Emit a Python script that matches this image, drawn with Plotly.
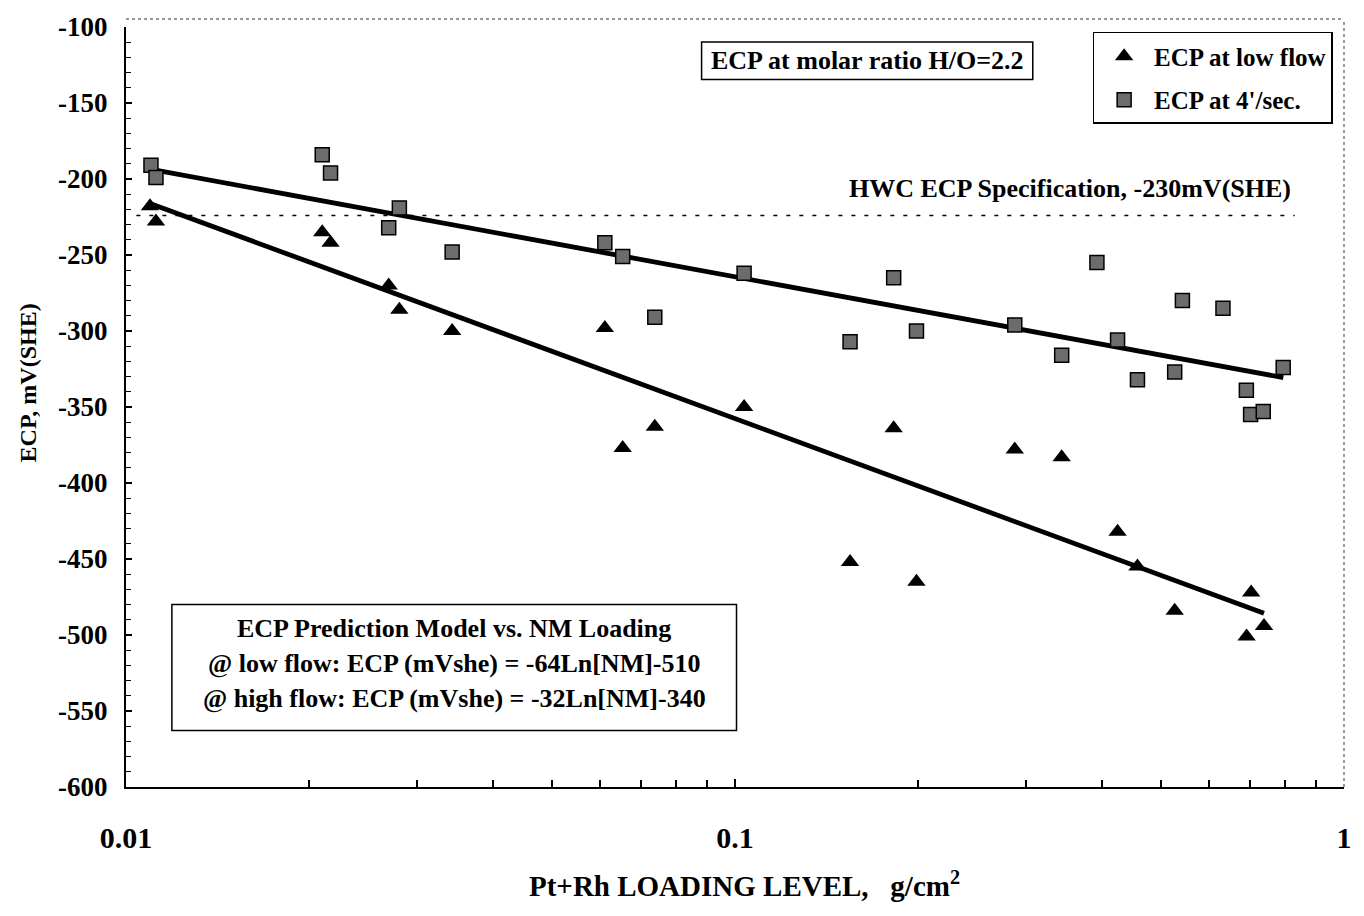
import numpy as np
import plotly.graph_objects as go

# ---------------- data ----------------
low_x = [0.01095, 0.0112, 0.0210, 0.02167, 0.0270, 0.02811, 0.03432, 0.06113, 0.0654, 0.07384,
         0.1035, 0.1545, 0.1822, 0.1986, 0.2880, 0.3439, 0.4248, 0.458, 0.5272, 0.692, 0.704, 0.739]
low_y = [-218, -228, -235, -242, -270, -286, -300, -298, -377, -363,
         -350, -452, -364, -465, -378, -383, -432, -455, -484, -501, -472, -494]

high_x = [0.01099, 0.0112, 0.0210, 0.02167, 0.0270, 0.02811, 0.03432, 0.06113, 0.0654, 0.07384,
          0.1035, 0.1545, 0.1822, 0.1986, 0.2880, 0.3439, 0.3929, 0.4248, 0.458, 0.5272,
          0.5428, 0.6328, 0.6913, 0.7025, 0.7369, 0.7946]
high_y = [-191, -199, -184, -196, -232, -219, -248, -242, -251, -291,
          -262, -307, -265, -300, -296, -316, -255, -306, -332, -327,
          -280, -285, -339, -355, -353, -324]

# fitted model lines (as drawn): ECP = a*ln(NM) + b
low_fit = (-64.0, -505.0)
high_fit = (-32.0, -338.0)
low_fit_x = [0.01095, 0.739]
high_fit_x = [0.01095, 0.795]

spec_level = -224
spec_x = [0.0104, 0.83]

x_ticks = [0.01, 0.1, 1]
x_tick_text = ["0.01", "0.1", "1"]
y_ticks = [-100, -150, -200, -250, -300, -350, -400, -450, -500, -550, -600]
y_tick_text = ["-100", "-150", "-200", "-250", "-300", "-350", "-400", "-450", "-500", "-550", "-600"]

# ---------------- layout helpers ----------------
W, H = 1364, 916
L, R, T, B = 126, 1347, 21, 787
def px(x): return (x - L) / (R - L)
def py(y): return (B - y) / (B - T)

FONT = "Liberation Serif"

fig = go.Figure()

lx = np.array(low_fit_x)
hx = np.array(high_fit_x)
fig.add_trace(go.Scatter(x=lx, y=low_fit[0] * np.log(lx) + low_fit[1], mode="lines",
                         line=dict(color="black", width=4.8), showlegend=False, hoverinfo="skip"))
fig.add_trace(go.Scatter(x=hx, y=high_fit[0] * np.log(hx) + high_fit[1], mode="lines",
                         line=dict(color="black", width=4.8), showlegend=False, hoverinfo="skip"))
fig.add_trace(go.Scatter(x=spec_x, y=[spec_level, spec_level], mode="lines",
                         line=dict(color="black", width=1.5, dash="4px,9px"),
                         showlegend=False, hoverinfo="skip"))

fig.add_trace(go.Scatter(x=low_x, y=low_y, mode="markers", name="<b>ECP at low flow</b>",
                         legendgroup="a",
                         marker=dict(symbol="triangle-up", size=16, color="black")))
fig.add_trace(go.Scatter(x=high_x, y=high_y, mode="markers", name="<b>ECP at 4'/sec.</b>",
                         legendgroup="b",
                         marker=dict(symbol="square", size=14, color="#6c6c6c",
                                     line=dict(color="black", width=1.5))))

shapes = [
    # dotted outer frame (top and right)
    dict(type="line", xref="paper", yref="paper", x0=0, x1=1, y0=py(13), y1=py(13),
         line=dict(color="#777", width=1.5, dash="dot")),
    dict(type="line", xref="paper", yref="paper", x0=1, x1=1, y0=0, y1=py(13),
         line=dict(color="#777", width=1.5, dash="dot")),
    # molar ratio box
    dict(type="rect", xref="paper", yref="paper", x0=px(703), x1=px(1035), y0=py(74), y1=py(36),
         line=dict(color="black", width=1.5), fillcolor="white", layer="below"),
    # prediction model box
    dict(type="rect", xref="paper", yref="paper", x0=px(172), x1=px(738), y0=py(730), y1=py(603),
         line=dict(color="black", width=1.5), fillcolor="white", layer="below"),
]

tf = dict(family=FONT, size=26, color="black")
ann = [
    dict(text="<b>ECP at molar ratio H/O=2.2</b>", x=px(869), y=py(55)),
    dict(text="<b>HWC ECP Specification, -230mV(SHE)</b>", x=px(1072), y=py(184)),
    dict(text="<b>ECP Prediction Model vs. NM Loading</b>", x=px(455), y=py(627)),
    dict(text="<b>@ low flow: ECP (mVshe) = -64Ln[NM]-510</b>", x=px(455), y=py(663)),
    dict(text="<b>@ high flow: ECP (mVshe) = -32Ln[NM]-340</b>", x=px(455), y=py(698)),
]
annotations = []
for a in ann:
    a.update(xref="paper", yref="paper", showarrow=False, xanchor="center", yanchor="middle",
             font=tf)
    annotations.append(a)
annotations.append(dict(text="<b>Pt+Rh LOADING LEVEL,\u00a0\u00a0\u00a0g/cm<sup>2</sup></b>",
                        x=px(746), y=py(885), xref="paper", yref="paper", showarrow=False,
                        xanchor="center", yanchor="middle",
                        font=dict(family=FONT, size=29, color="black")))
annotations.append(dict(text="<b>ECP, mV(SHE)</b>", x=px(28), y=py(380), xref="paper",
                        yref="paper", showarrow=False, textangle=-90, xanchor="center",
                        yanchor="middle", font=dict(family=FONT, size=24, color="black")))

fig.update_layout(
    width=W, height=H,
    margin=dict(l=L, r=W - R, t=T, b=H - B, pad=0),
    paper_bgcolor="white", plot_bgcolor="white",
    font=dict(family=FONT, color="black"),
    showlegend=True,
    legend=dict(x=px(1095), y=py(26), xanchor="left", yanchor="top",
                bordercolor="black", borderwidth=1.5, bgcolor="white",
                font=dict(family=FONT, size=25, color="black"),
                tracegroupgap=8, itemwidth=50),
    shapes=shapes, annotations=annotations,
    xaxis=dict(type="log", range=[-2, 0], tickvals=x_ticks,
               ticktext=["<b>%s</b>" % t for t in x_tick_text],
               ticks="inside", ticklen=8, tickwidth=1.5, tickcolor="black",
               showline=True, linecolor="black", linewidth=2, showgrid=False, zeroline=False,
               minor=dict(ticks="inside", ticklen=7, tickwidth=1.5, tickcolor="black",
                          dtick="D1", showgrid=False),
               tickfont=dict(family=FONT, size=30, color="black"), ticklabelstandoff=23),
    yaxis=dict(range=[-600, -100], tickvals=y_ticks,
               ticktext=["<b>%s</b>" % t for t in y_tick_text],
               ticks="inside", ticklen=6, tickwidth=1.5, tickcolor="black",
               showline=True, linecolor="black", linewidth=2, showgrid=False, zeroline=False,
               minor=dict(ticks="inside", ticklen=5, tickwidth=1, tickcolor="black", dtick=10,
                          tick0=-600, showgrid=False),
               tickfont=dict(family=FONT, size=27, color="black"), ticklabelstandoff=11),
)

fig.write_html("out.html")
